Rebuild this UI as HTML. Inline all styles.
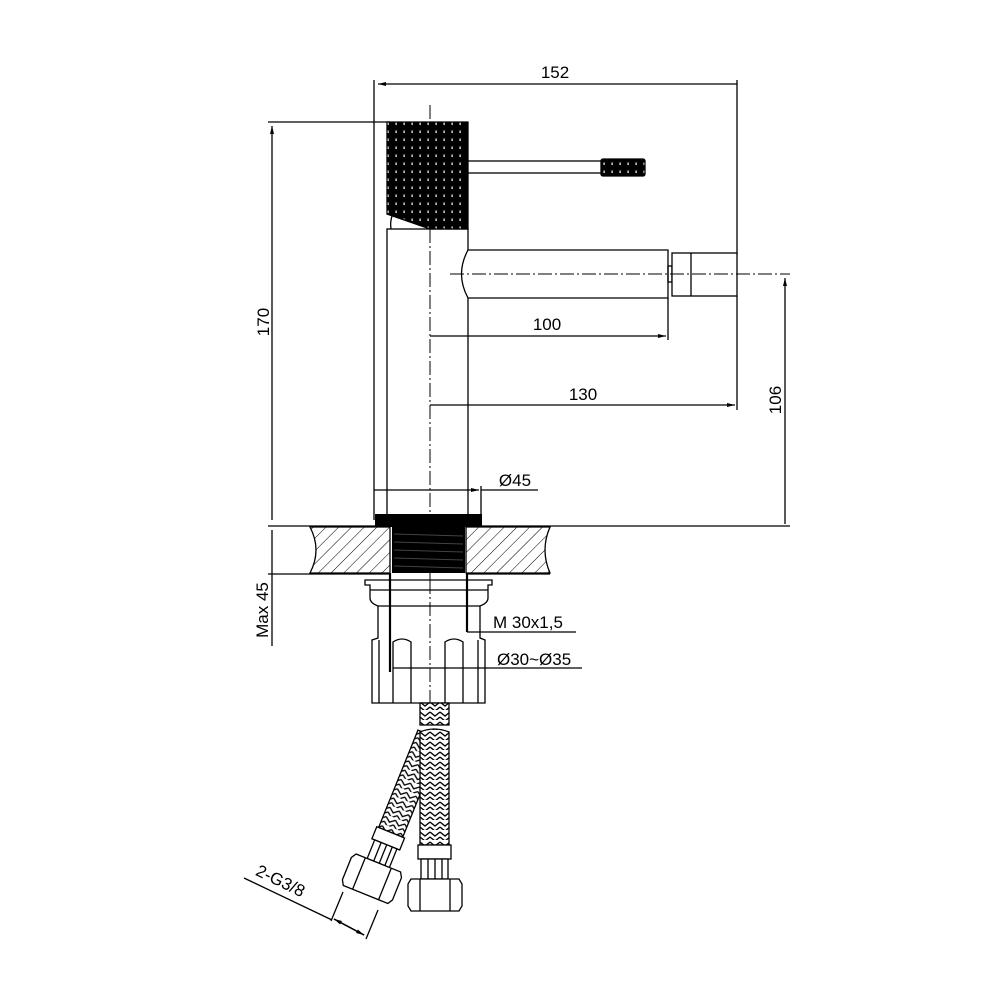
<!DOCTYPE html>
<html><head><meta charset="utf-8"><style>
html,body{margin:0;padding:0;background:#fff;}
svg{display:block;}
text{font-family:"Liberation Sans",sans-serif;font-size:17px;fill:#000;}
</style></head><body>
<svg width="1000" height="1000" viewBox="0 0 1000 1000" xmlns="http://www.w3.org/2000/svg">
<defs>
<pattern id="hatch" width="9" height="9" patternUnits="userSpaceOnUse" patternTransform="rotate(45)">
<line x1="0" y1="0" x2="0" y2="9" stroke="#000" stroke-width="1"/>
</pattern>
<pattern id="braid" width="10" height="10" patternUnits="userSpaceOnUse">
<rect width="10" height="10" fill="#fff"/>
<path d="M0 2 L5 6 L10 2 M0 7 L5 11 L10 7" stroke="#000" stroke-width="1.3" fill="none"/>
</pattern>
<pattern id="knurl" width="8" height="8" patternUnits="userSpaceOnUse">
<rect width="8" height="8" fill="#000"/>
<rect x="3.5" y="2.5" width="1.2" height="2.5" fill="#fff"/>
</pattern>
<marker id="ar" markerWidth="8" markerHeight="6" refX="8" refY="3" orient="auto" markerUnits="userSpaceOnUse">
<path d="M0 1 L8 3 L0 5 Z" fill="#000"/>
</marker>
</defs>
<g stroke="#000" fill="none" stroke-width="1.3">
<line x1="374" y1="80" x2="374" y2="520"/>
<line x1="737" y1="80" x2="737" y2="255"/>
<line x1="737" y1="84" x2="378" y2="84" marker-end="url(#ar)"/>
<line x1="268" y1="122" x2="390" y2="122"/>
<line x1="272" y1="520" x2="272" y2="126" marker-end="url(#ar)"/>
<line x1="430" y1="105" x2="430" y2="705" stroke-dasharray="14 3 2 3" stroke-width="1"/>
<rect x="387" y="229" width="81" height="287" fill="#fff"/>
<path d="M387 122 L468 122 L468 229 L430 229 L387 214 Z" fill="url(#knurl)" stroke="#000"/>
<path d="M392 216 Q390 222 391 229" />
<rect x="468" y="161" width="135" height="12" fill="#fff"/>
<rect x="601" y="159" width="44" height="17" rx="2" fill="url(#knurl)"/>
<path d="M468 250 L668 250 L668 298 L468 298 Q455 274 468 250 Z" fill="#fff"/>
<rect x="668" y="266" width="4" height="16"/>
<rect x="672" y="253" width="65" height="43" fill="#fff"/>
<line x1="691" y1="253" x2="691" y2="296"/>
<line x1="430" y1="229" x2="430" y2="520" stroke-dasharray="14 3 2 3" stroke-width="1"/>
<line x1="450" y1="274" x2="790" y2="274" stroke-dasharray="14 3 2 3" stroke-width="1"/>
<line x1="668" y1="298" x2="668" y2="340"/>
<line x1="430" y1="336" x2="666" y2="336" marker-end="url(#ar)"/>
<line x1="737" y1="296" x2="737" y2="410"/>
<line x1="430" y1="405" x2="735" y2="405" marker-end="url(#ar)"/>
<line x1="785" y1="524" x2="785" y2="278" marker-end="url(#ar)"/>
<line x1="481" y1="486" x2="481" y2="515"/>
<line x1="374" y1="490" x2="479" y2="490" marker-end="url(#ar)"/>
<line x1="481" y1="490" x2="538" y2="490"/>
<line x1="268" y1="526" x2="790" y2="526"/>
<path d="M310 527 L390 527 L390 573 L310 573 Q322 550 310 527 Z" fill="url(#hatch)"/>
<path d="M466 527 L550 527 Q540 550 550 573 L466 573 Z" fill="url(#hatch)"/>
<line x1="268" y1="574" x2="390" y2="574"/>
<line x1="466" y1="574" x2="550" y2="574"/>
<line x1="272" y1="530" x2="272" y2="646"/>
</g>
<rect x="375" y="514" width="107" height="13" fill="#000"/>
<rect x="392" y="527" width="73" height="46" fill="#000"/>
<g stroke="#444" stroke-width="1">
<line x1="394" y1="534" x2="463" y2="536"/><line x1="394" y1="542" x2="463" y2="544"/><line x1="394" y1="550" x2="463" y2="552"/><line x1="394" y1="558" x2="463" y2="560"/><line x1="394" y1="566" x2="463" y2="568"/>
</g>
<g stroke="#000" fill="none" stroke-width="1.3">
<path d="M365 580 L492 580 L492 585 L488 585 L488 598 Q488 603 480 606 L480 638 L485 640 L485 703 L372 703 L372 640 L378 638 L378 606 Q370 603 370 598 L370 585 L365 585 Z" fill="#fff"/>
<line x1="370" y1="590" x2="488" y2="590"/>
<line x1="378" y1="606" x2="480" y2="606"/>
<line x1="379" y1="640" x2="379" y2="703"/>
<line x1="478" y1="640" x2="478" y2="703"/>
<path d="M393 703 L393 642 Q402 636 411 642 L411 703"/>
<path d="M445 703 L445 642 Q454 636 463 642 L463 703"/>
<line x1="390" y1="573" x2="390" y2="672" stroke-width="2.2"/>
<line x1="467" y1="573" x2="467" y2="632" stroke-width="2.2"/>
<line x1="430" y1="580" x2="430" y2="705" stroke-dasharray="14 3 2 3" stroke-width="1"/>
<line x1="467" y1="632" x2="576" y2="632"/>
<line x1="393" y1="668" x2="582" y2="668"/>
<!-- slanted hose (behind) -->
<g transform="translate(430,735) rotate(22)">
<rect x="-13" y="0" width="26" height="105" fill="url(#braid)"/>
<rect x="-15" y="105" width="30" height="13" fill="#fff"/>
<rect x="-12" y="118" width="24" height="20" fill="#fff"/>
<line x1="-5" y1="118" x2="-5" y2="138"/><line x1="1" y1="118" x2="1" y2="138"/><line x1="7" y1="118" x2="7" y2="138"/>
<path d="M-24 138 L24 138 L27 143 L27 167 L24 172 L-24 172 L-27 167 L-27 143 Z" fill="#fff"/>
<line x1="-14" y1="138" x2="-14" y2="172"/><line x1="14" y1="138" x2="14" y2="172"/>
</g>
<!-- vertical hose (front) -->
<rect x="420" y="703" width="29" height="22" fill="url(#braid)"/>
<path d="M420 732 Q434 726 449 732 L449 845 L420 845 Z" fill="url(#braid)"/>
<rect x="418" y="845" width="33" height="14" fill="#fff"/>
<rect x="421" y="859" width="27" height="20" fill="#fff"/>
<line x1="428" y1="859" x2="428" y2="879"/><line x1="435" y1="859" x2="435" y2="879"/><line x1="442" y1="859" x2="442" y2="879"/>
<path d="M411 879 L459 879 L462 884 L462 906 L459 911 L411 911 L408 906 L408 884 Z" fill="#fff"/>
<line x1="420" y1="879" x2="420" y2="911"/><line x1="450" y1="879" x2="450" y2="911"/>
<line x1="244" y1="878" x2="332" y2="920"/>
<line x1="331" y1="921" x2="343" y2="892"/>
<line x1="366" y1="939" x2="378" y2="910"/>
<line x1="334" y1="919" x2="364" y2="935" marker-end="url(#ar)"/>
<line x1="364" y1="935" x2="334" y2="919" marker-end="url(#ar)"/>
</g>
<text x="555" y="78" text-anchor="middle">152</text>
<text x="547" y="330" text-anchor="middle">100</text>
<text x="583" y="400" text-anchor="middle">130</text>
<text x="515" y="486" text-anchor="middle">Ø45</text>
<text x="493" y="628">M 30x1,5</text>
<text x="497" y="665">Ø30~Ø35</text>
<text transform="translate(269,322) rotate(-90)" text-anchor="middle">170</text>
<text transform="translate(268,610) rotate(-90)" text-anchor="middle">Max 45</text>
<text transform="translate(781,400) rotate(-90)" text-anchor="middle">106</text>
<text transform="translate(278,886) rotate(26)" text-anchor="middle">2-G3/8</text>
</svg>
</body></html>
